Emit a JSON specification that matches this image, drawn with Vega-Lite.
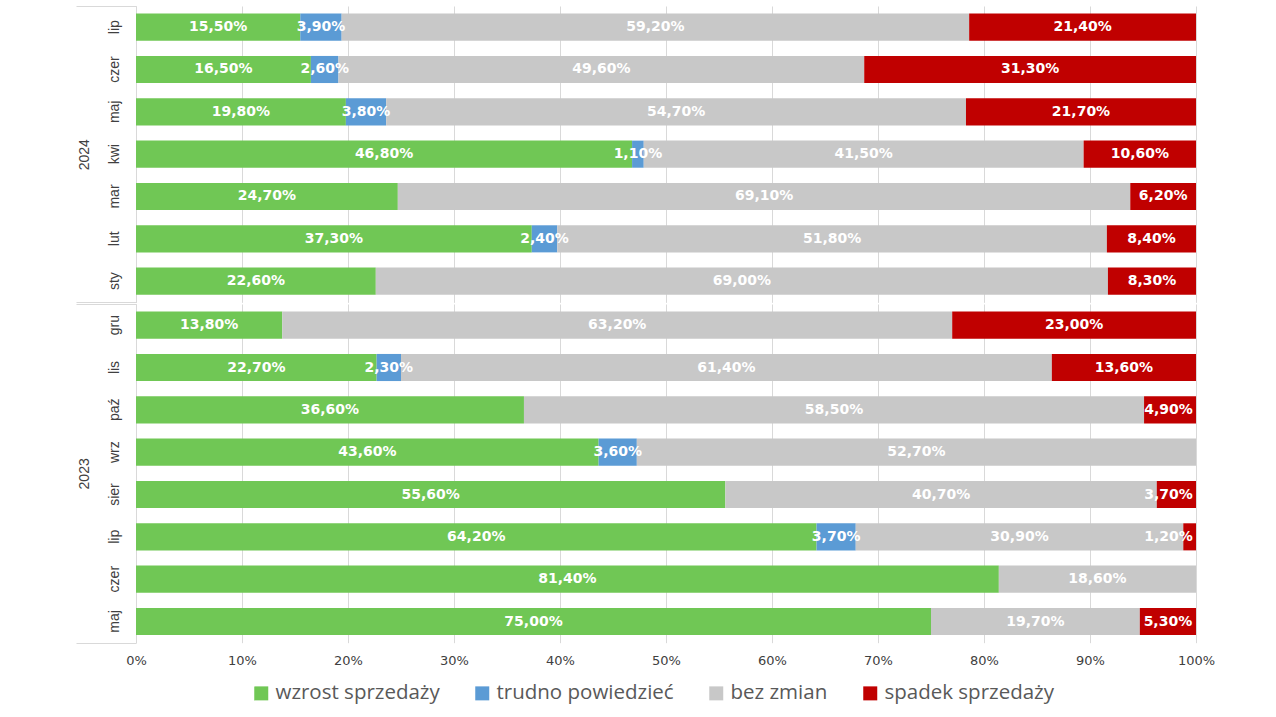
{
  "$schema": "https://vega.github.io/schema/vega-lite/v6.json",
  "padding": {"left": 75, "top": 5, "right": 5, "bottom": 5},
  "autosize": {"type": "pad"},
  "background": "white",
  "data": {"values": [
    {"year": "2024", "mon": "lip", "m": 7, "cat": "wzrost sprzedaży", "o": 1, "v": 0.155},
    {"year": "2024", "mon": "lip", "m": 7, "cat": "trudno powiedzieć", "o": 2, "v": 0.039},
    {"year": "2024", "mon": "lip", "m": 7, "cat": "bez zmian", "o": 3, "v": 0.592},
    {"year": "2024", "mon": "lip", "m": 7, "cat": "spadek sprzedaży", "o": 4, "v": 0.214},
    {"year": "2024", "mon": "czer", "m": 6, "cat": "wzrost sprzedaży", "o": 1, "v": 0.165},
    {"year": "2024", "mon": "czer", "m": 6, "cat": "trudno powiedzieć", "o": 2, "v": 0.026},
    {"year": "2024", "mon": "czer", "m": 6, "cat": "bez zmian", "o": 3, "v": 0.496},
    {"year": "2024", "mon": "czer", "m": 6, "cat": "spadek sprzedaży", "o": 4, "v": 0.313},
    {"year": "2024", "mon": "maj", "m": 5, "cat": "wzrost sprzedaży", "o": 1, "v": 0.198},
    {"year": "2024", "mon": "maj", "m": 5, "cat": "trudno powiedzieć", "o": 2, "v": 0.038},
    {"year": "2024", "mon": "maj", "m": 5, "cat": "bez zmian", "o": 3, "v": 0.547},
    {"year": "2024", "mon": "maj", "m": 5, "cat": "spadek sprzedaży", "o": 4, "v": 0.217},
    {"year": "2024", "mon": "kwi", "m": 4, "cat": "wzrost sprzedaży", "o": 1, "v": 0.468},
    {"year": "2024", "mon": "kwi", "m": 4, "cat": "trudno powiedzieć", "o": 2, "v": 0.011},
    {"year": "2024", "mon": "kwi", "m": 4, "cat": "bez zmian", "o": 3, "v": 0.415},
    {"year": "2024", "mon": "kwi", "m": 4, "cat": "spadek sprzedaży", "o": 4, "v": 0.106},
    {"year": "2024", "mon": "mar", "m": 3, "cat": "wzrost sprzedaży", "o": 1, "v": 0.247},
    {"year": "2024", "mon": "mar", "m": 3, "cat": "bez zmian", "o": 3, "v": 0.691},
    {"year": "2024", "mon": "mar", "m": 3, "cat": "spadek sprzedaży", "o": 4, "v": 0.062},
    {"year": "2024", "mon": "lut", "m": 2, "cat": "wzrost sprzedaży", "o": 1, "v": 0.373},
    {"year": "2024", "mon": "lut", "m": 2, "cat": "trudno powiedzieć", "o": 2, "v": 0.024},
    {"year": "2024", "mon": "lut", "m": 2, "cat": "bez zmian", "o": 3, "v": 0.518},
    {"year": "2024", "mon": "lut", "m": 2, "cat": "spadek sprzedaży", "o": 4, "v": 0.084},
    {"year": "2024", "mon": "sty", "m": 1, "cat": "wzrost sprzedaży", "o": 1, "v": 0.226},
    {"year": "2024", "mon": "sty", "m": 1, "cat": "bez zmian", "o": 3, "v": 0.690},
    {"year": "2024", "mon": "sty", "m": 1, "cat": "spadek sprzedaży", "o": 4, "v": 0.083},
    {"year": "2023", "mon": "gru", "m": 12, "cat": "wzrost sprzedaży", "o": 1, "v": 0.138},
    {"year": "2023", "mon": "gru", "m": 12, "cat": "bez zmian", "o": 3, "v": 0.632},
    {"year": "2023", "mon": "gru", "m": 12, "cat": "spadek sprzedaży", "o": 4, "v": 0.230},
    {"year": "2023", "mon": "lis", "m": 11, "cat": "wzrost sprzedaży", "o": 1, "v": 0.227},
    {"year": "2023", "mon": "lis", "m": 11, "cat": "trudno powiedzieć", "o": 2, "v": 0.023},
    {"year": "2023", "mon": "lis", "m": 11, "cat": "bez zmian", "o": 3, "v": 0.614},
    {"year": "2023", "mon": "lis", "m": 11, "cat": "spadek sprzedaży", "o": 4, "v": 0.136},
    {"year": "2023", "mon": "paź", "m": 10, "cat": "wzrost sprzedaży", "o": 1, "v": 0.366},
    {"year": "2023", "mon": "paź", "m": 10, "cat": "bez zmian", "o": 3, "v": 0.585},
    {"year": "2023", "mon": "paź", "m": 10, "cat": "spadek sprzedaży", "o": 4, "v": 0.049},
    {"year": "2023", "mon": "wrz", "m": 9, "cat": "wzrost sprzedaży", "o": 1, "v": 0.436},
    {"year": "2023", "mon": "wrz", "m": 9, "cat": "trudno powiedzieć", "o": 2, "v": 0.036},
    {"year": "2023", "mon": "wrz", "m": 9, "cat": "bez zmian", "o": 3, "v": 0.527},
    {"year": "2023", "mon": "sier", "m": 8, "cat": "wzrost sprzedaży", "o": 1, "v": 0.556},
    {"year": "2023", "mon": "sier", "m": 8, "cat": "bez zmian", "o": 3, "v": 0.407},
    {"year": "2023", "mon": "sier", "m": 8, "cat": "spadek sprzedaży", "o": 4, "v": 0.037},
    {"year": "2023", "mon": "lip", "m": 7, "cat": "wzrost sprzedaży", "o": 1, "v": 0.642},
    {"year": "2023", "mon": "lip", "m": 7, "cat": "trudno powiedzieć", "o": 2, "v": 0.037},
    {"year": "2023", "mon": "lip", "m": 7, "cat": "bez zmian", "o": 3, "v": 0.309},
    {"year": "2023", "mon": "lip", "m": 7, "cat": "spadek sprzedaży", "o": 4, "v": 0.012},
    {"year": "2023", "mon": "czer", "m": 6, "cat": "wzrost sprzedaży", "o": 1, "v": 0.814},
    {"year": "2023", "mon": "czer", "m": 6, "cat": "bez zmian", "o": 3, "v": 0.186},
    {"year": "2023", "mon": "maj", "m": 5, "cat": "wzrost sprzedaży", "o": 1, "v": 0.750},
    {"year": "2023", "mon": "maj", "m": 5, "cat": "bez zmian", "o": 3, "v": 0.197},
    {"year": "2023", "mon": "maj", "m": 5, "cat": "spadek sprzedaży", "o": 4, "v": 0.053}
  ]},
  "spacing": 0,
  "vconcat": [
    {
      "width": 1060,
      "height": 296.33,
      "transform": [
        {"filter": "datum.year == '2024'"},
        {"stack": "v", "groupby": ["mon"], "sort": [{"field": "o", "order": "ascending"}], "offset": "normalize", "as": ["v0", "v1"]},
        {"calculate": "min((datum.v0 + datum.v1) / 2, 0.974)", "as": "vmid"}
      ],
      "layer": [
        {
          "layer": [
            {
              "mark": {"type": "bar"},
              "encoding": {
                "y": {"field": "mon", "type": "nominal", "sort": {"field": "m", "op": "max", "order": "descending"}, "scale": {"paddingInner": 0.36, "paddingOuter": 0.18},
                      "axis": {"title": null, "labelAngle": -90, "ticks": false, "domain": true, "domainColor": "#d9d9d9", "labelPadding": 15, "labelFont": "Liberation Sans", "labelFontSize": 14, "labelColor": "#404040"}},
                "x": {"field": "v0", "type": "quantitative", "scale": {"domain": [0, 1]},
                      "axis": {"title": null, "labels": false, "ticks": false, "domain": false, "grid": true, "gridColor": "#d9d9d9", "values": [0, 0.1, 0.2, 0.3, 0.4, 0.5, 0.6, 0.7, 0.8, 0.9, 1]}},
                "x2": {"field": "v1"},
                "color": {"field": "cat", "type": "nominal",
                          "scale": {"domain": ["wzrost sprzedaży", "trudno powiedzieć", "bez zmian", "spadek sprzedaży"], "range": ["#70C755", "#5B9BD5", "#C8C8C8", "#C00000"]}}
              }
            },
            {
              "mark": {"type": "text", "color": "white", "font": "DejaVu Sans", "fontWeight": "bold", "fontSize": 14, "clip": false},
              "encoding": {
                "y": {"field": "mon", "type": "nominal", "sort": {"field": "m", "op": "max", "order": "descending"}},
                "x": {"field": "vmid", "type": "quantitative"},
                "text": {"field": "v", "type": "quantitative", "format": ".2%"}
              }
            }
          ]
        },
        {
          "mark": {"type": "tick", "opacity": 0},
          "encoding": {
            "y": {"field": "year", "type": "nominal", "scale": {"paddingInner": 0, "paddingOuter": 0},
                  "axis": {"orient": "left", "title": null, "tickBand": "extent", "tickSize": 60, "tickColor": "#d9d9d9", "domain": false, "labelAngle": -90, "labelPadding": -15, "labelFont": "Liberation Sans", "labelFontSize": 14, "labelColor": "#404040"}}
          }
        }
      ],
      "resolve": {"scale": {"y": "independent"}, "axis": {"y": "independent"}}
    },
    {
      "width": 1060,
      "height": 338.67,
      "transform": [
        {"filter": "datum.year == '2023'"},
        {"stack": "v", "groupby": ["mon"], "sort": [{"field": "o", "order": "ascending"}], "offset": "normalize", "as": ["v0", "v1"]},
        {"calculate": "min((datum.v0 + datum.v1) / 2, 0.974)", "as": "vmid"}
      ],
      "layer": [
        {
          "layer": [
            {
              "mark": {"type": "bar"},
              "encoding": {
                "y": {"field": "mon", "type": "nominal", "sort": {"field": "m", "op": "max", "order": "descending"}, "scale": {"paddingInner": 0.36, "paddingOuter": 0.18},
                      "axis": {"title": null, "labelAngle": -90, "ticks": false, "domain": true, "domainColor": "#d9d9d9", "labelPadding": 15, "labelFont": "Liberation Sans", "labelFontSize": 14, "labelColor": "#404040"}},
                "x": {"field": "v0", "type": "quantitative", "scale": {"domain": [0, 1]},
                      "axis": {"title": null, "labels": true, "labelFlush": false, "format": ".0%", "ticks": false, "domain": false, "grid": true, "gridColor": "#d9d9d9", "labelPadding": 12, "labelFont": "DejaVu Sans", "labelFontSize": 13, "labelColor": "#404040", "values": [0, 0.1, 0.2, 0.3, 0.4, 0.5, 0.6, 0.7, 0.8, 0.9, 1]}},
                "x2": {"field": "v1"},
                "color": {"field": "cat", "type": "nominal",
                          "scale": {"domain": ["wzrost sprzedaży", "trudno powiedzieć", "bez zmian", "spadek sprzedaży"], "range": ["#70C755", "#5B9BD5", "#C8C8C8", "#C00000"]}}
              }
            },
            {
              "mark": {"type": "text", "color": "white", "font": "DejaVu Sans", "fontWeight": "bold", "fontSize": 14, "clip": false},
              "encoding": {
                "y": {"field": "mon", "type": "nominal", "sort": {"field": "m", "op": "max", "order": "descending"}},
                "x": {"field": "vmid", "type": "quantitative"},
                "text": {"field": "v", "type": "quantitative", "format": ".2%"}
              }
            }
          ]
        },
        {
          "mark": {"type": "tick", "opacity": 0},
          "encoding": {
            "y": {"field": "year", "type": "nominal", "scale": {"paddingInner": 0, "paddingOuter": 0},
                  "axis": {"orient": "left", "title": null, "tickBand": "extent", "tickSize": 60, "tickColor": "#d9d9d9", "domain": false, "labelAngle": -90, "labelPadding": -15, "labelFont": "Liberation Sans", "labelFontSize": 14, "labelColor": "#404040"}}
          }
        }
      ],
      "resolve": {"scale": {"y": "independent"}, "axis": {"y": "independent"}}
    }
  ],
  "config": {
    "view": {"stroke": null},
    "locale": {"number": {"decimal": ",", "thousands": " ", "grouping": [3], "currency": ["", " zł"]}},
    "legend": {"orient": "none", "legendX": 115, "legendY": 677, "direction": "horizontal", "title": null, "symbolType": "square", "symbolSize": 196, "symbolStrokeWidth": 0, "labelFontSize": 20.5, "labelFont": "Open Sans", "labelColor": "#595959", "columnPadding": 32, "labelOffset": 4, "labelLimit": 400}
  }
}
